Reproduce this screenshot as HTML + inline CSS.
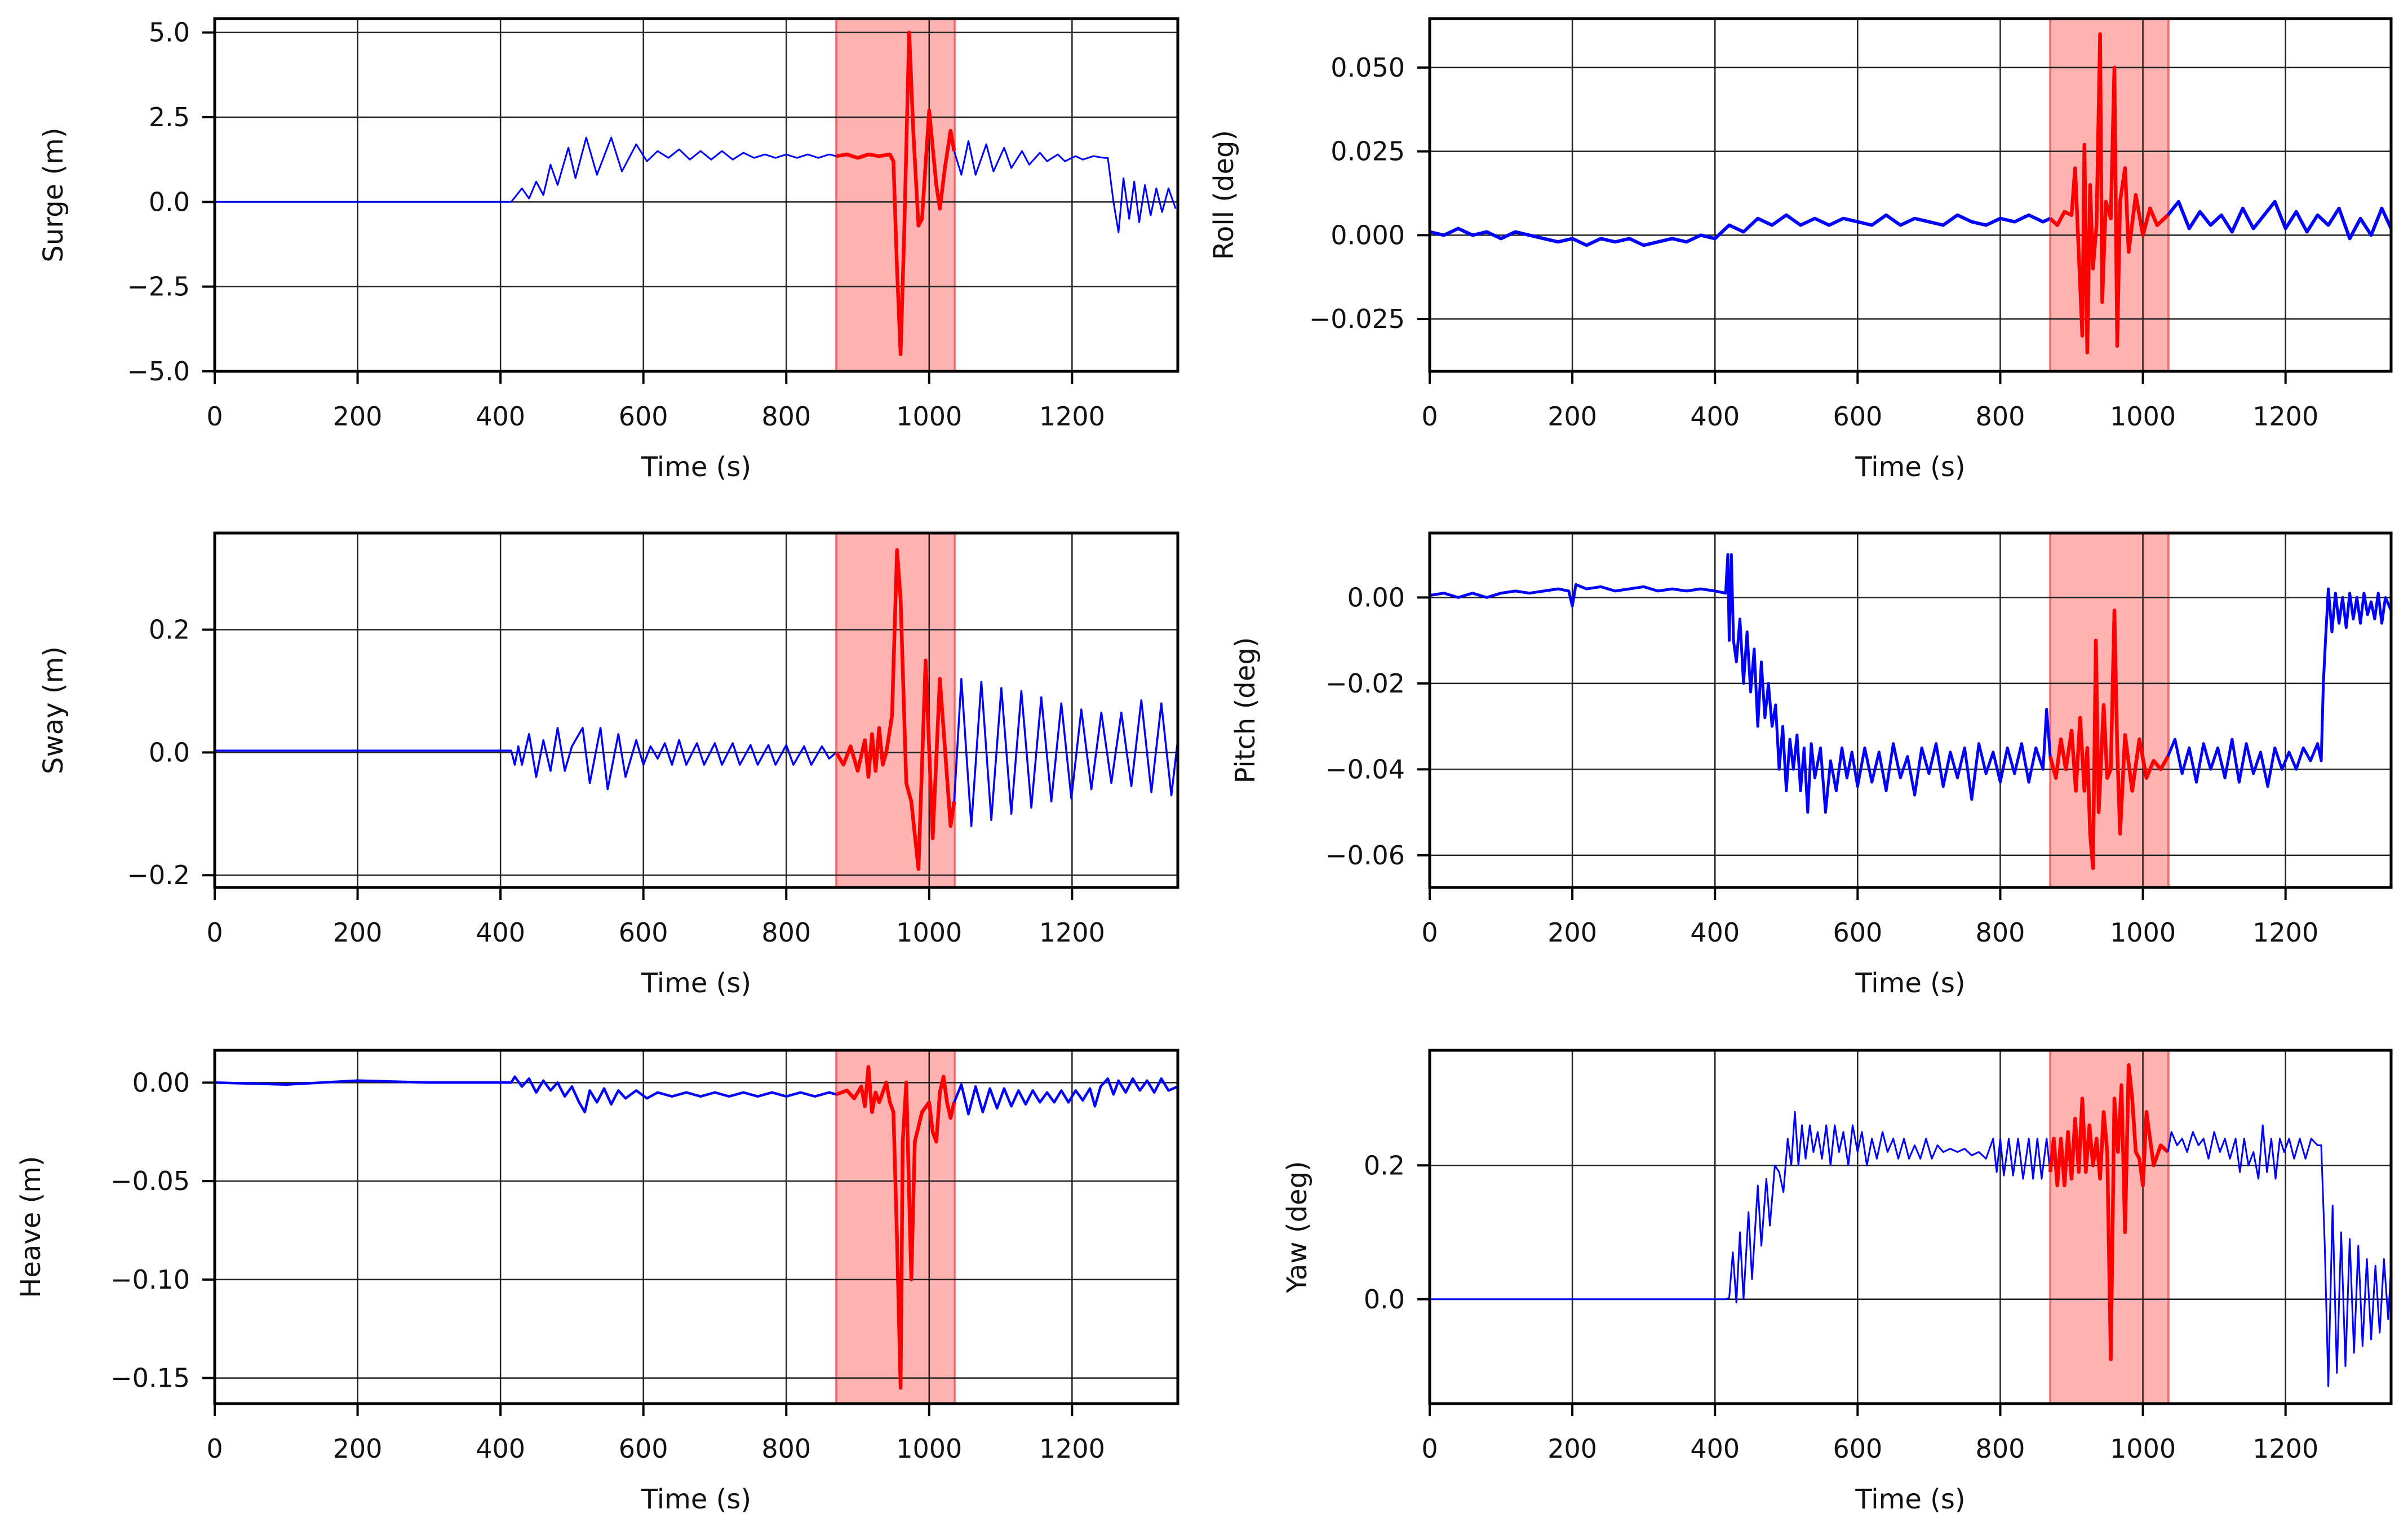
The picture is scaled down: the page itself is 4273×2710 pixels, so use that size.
<!DOCTYPE html>
<html><head><meta charset="utf-8">
<style>
html,body{margin:0;padding:0;background:#fff;}
svg{display:block;font-family:"DejaVu Sans","Liberation Sans",sans-serif;}
</style></head>
<body>
<svg id="fig" width="4273" height="2710" viewBox="0 0 4273 2710" xmlns="http://www.w3.org/2000/svg"></svg>
<script>
// ---------- data ----------
const xTicks = [0,200,400,600,800,1000,1200];
const shadeRange = [870,1036];

const surgeT1=[0,415,430,440,450,460,470,480,495,505,520,535,555,570,590,605,620,635,650,665,680,695,710,725,740,755,770,785,800,815,830,845,860,870];
const surgeV1=[0,0,0.4,0.1,0.6,0.2,1.1,0.5,1.6,0.7,1.9,0.8,1.9,0.9,1.7,1.2,1.5,1.3,1.55,1.25,1.5,1.25,1.5,1.25,1.45,1.3,1.4,1.3,1.4,1.3,1.4,1.3,1.4,1.35];
const surgeTR=[870,885,900,915,930,945,950,955,960,965,972,978,985,990,1000,1010,1015,1022,1030,1035];
const surgeVR=[1.35,1.4,1.3,1.4,1.35,1.4,1.2,-2,-4.5,-1,5.0,2,-0.7,-0.5,2.7,0.5,-0.2,1.0,2.1,1.5];
const surgeT2=[1035,1045,1055,1065,1080,1090,1105,1115,1130,1140,1155,1165,1180,1190,1205,1215,1230,1245,1250,1258,1265,1272,1280,1287,1294,1302,1310,1318,1326,1335,1345];
const surgeV2=[1.5,0.8,1.8,0.8,1.7,0.9,1.6,1.0,1.5,1.1,1.45,1.2,1.4,1.2,1.35,1.25,1.35,1.3,1.3,0,-0.9,0.7,-0.5,0.6,-0.6,0.5,-0.4,0.4,-0.3,0.4,-0.2];
const surgeTicks=[5.0,2.5,0.0,-2.5,-5.0];

const rollT1=[0,20,40,60,80,100,120,140,160,180,200,220,240,260,280,300,320,340,360,380,400,420,440,460,480,500,520,540,560,580,600,620,640,660,680,700,720,740,760,780,800,820,840,860,870];
const rollV1=[0.001,0.0,0.002,0.0,0.001,-0.001,0.001,0.0,-0.001,-0.002,-0.001,-0.003,-0.001,-0.002,-0.001,-0.003,-0.002,-0.001,-0.002,0.0,-0.001,0.003,0.001,0.005,0.003,0.006,0.003,0.005,0.003,0.005,0.004,0.003,0.006,0.003,0.005,0.004,0.003,0.006,0.004,0.003,0.005,0.004,0.006,0.004,0.005];
const rollTR=[870,880,890,900,905,910,915,918,922,926,930,935,940,943,948,955,960,964,968,975,980,990,1000,1010,1020,1035];
const rollVR=[0.005,0.003,0.007,0.006,0.02,-0.005,-0.03,0.027,-0.035,0.015,-0.01,0.003,0.06,-0.02,0.01,0.005,0.05,-0.033,0.01,0.02,-0.005,0.012,0.0,0.008,0.003,0.006];
const rollT2=[1035,1050,1065,1080,1095,1110,1125,1140,1155,1170,1185,1200,1215,1230,1245,1260,1275,1290,1305,1320,1335,1348];
const rollV2=[0.006,0.01,0.002,0.007,0.003,0.006,0.001,0.008,0.002,0.006,0.01,0.002,0.007,0.001,0.006,0.003,0.008,-0.001,0.005,0.0,0.008,0.002];
const rollTicks=[0.05,0.025,0,-0.025];

const swayT1=[0,100,200,300,415,420,425,430,440,450,460,470,480,490,500,515,525,540,550,565,575,590,600,610,620,630,640,650,660,675,685,700,710,725,735,750,760,775,785,800,810,825,835,850,860,870];
const swayV1=[0.003,0.003,0.003,0.003,0.003,-0.02,0.01,-0.02,0.03,-0.04,0.02,-0.03,0.04,-0.03,0.01,0.04,-0.05,0.04,-0.06,0.03,-0.04,0.02,-0.02,0.01,-0.01,0.015,-0.02,0.02,-0.02,0.015,-0.02,0.015,-0.02,0.015,-0.02,0.012,-0.02,0.012,-0.02,0.012,-0.02,0.01,-0.02,0.01,-0.01,0.0];
const swayTR=[870,880,890,900,910,915,920,925,930,935,940,948,955,960,968,975,985,995,1005,1015,1030,1035];
const swayVR=[0,-0.02,0.01,-0.03,0.02,-0.04,0.03,-0.03,0.04,-0.02,0.0,0.06,0.33,0.25,-0.05,-0.08,-0.19,0.15,-0.14,0.12,-0.12,-0.08];
const swayT2=[1035,1045,1059,1073,1087,1101,1115,1129,1143,1157,1171,1185,1199,1213,1227,1241,1255,1269,1283,1297,1311,1325,1339,1348];
const swayV2=[-0.08,0.12,-0.12,0.115,-0.11,0.105,-0.1,0.1,-0.09,0.09,-0.08,0.08,-0.075,0.07,-0.06,0.065,-0.05,0.065,-0.055,0.085,-0.065,0.08,-0.07,0.02];
const swayTicks=[0.2,0.0,-0.2];

const pitchT1=[0,20,40,60,80,100,120,140,160,180,195,200,205,220,240,260,280,300,320,340,360,380,400,415,418,420,423,426,430,435,440,445,450,455,460,465,470,475,480,485,490,495,500,505,510,515,520,525,530,535,540,548,555,562,570,578,585,592,600,610,620,630,640,650,660,670,680,690,700,710,720,730,740,750,760,770,780,790,800,810,820,830,840,850,860,865,870];
const pitchV1=[0.0005,0.001,0.0,0.001,0.0,0.001,0.0015,0.001,0.0015,0.002,0.0015,-0.002,0.003,0.002,0.0025,0.0015,0.002,0.0025,0.0015,0.002,0.0015,0.002,0.0015,0.001,0.01,-0.01,0.01,-0.01,-0.015,-0.005,-0.02,-0.008,-0.022,-0.012,-0.03,-0.015,-0.028,-0.02,-0.03,-0.025,-0.04,-0.03,-0.045,-0.033,-0.04,-0.032,-0.045,-0.035,-0.05,-0.034,-0.042,-0.035,-0.05,-0.038,-0.045,-0.035,-0.042,-0.036,-0.044,-0.035,-0.043,-0.036,-0.045,-0.034,-0.042,-0.037,-0.046,-0.035,-0.041,-0.034,-0.044,-0.036,-0.042,-0.035,-0.047,-0.034,-0.041,-0.036,-0.043,-0.035,-0.041,-0.034,-0.043,-0.035,-0.04,-0.026,-0.037];
const pitchTR=[870,878,885,892,900,906,912,918,922,926,930,934,938,945,950,955,960,964,968,975,985,995,1005,1015,1025,1035];
const pitchVR=[-0.037,-0.042,-0.033,-0.04,-0.031,-0.045,-0.028,-0.045,-0.035,-0.055,-0.063,-0.01,-0.05,-0.025,-0.042,-0.04,-0.003,-0.035,-0.055,-0.032,-0.045,-0.033,-0.042,-0.038,-0.04,-0.037];
const pitchT2=[1035,1045,1055,1065,1075,1085,1095,1105,1115,1125,1135,1145,1155,1165,1175,1185,1195,1205,1215,1225,1235,1245,1250,1253,1256,1260,1265,1270,1275,1280,1285,1290,1295,1300,1305,1310,1315,1320,1325,1330,1335,1340,1348];
const pitchV2=[-0.037,-0.033,-0.041,-0.035,-0.043,-0.034,-0.04,-0.035,-0.042,-0.033,-0.043,-0.034,-0.041,-0.036,-0.044,-0.035,-0.04,-0.036,-0.04,-0.035,-0.038,-0.034,-0.038,-0.02,-0.01,0.002,-0.008,0.001,-0.006,0.0,-0.007,0.001,-0.005,0.0,-0.006,0.001,-0.004,-0.001,-0.005,0.001,-0.006,0.0,-0.003];
const pitchTicks=[0.0,-0.02,-0.04,-0.06];

const heaveT1=[0,100,200,300,415,420,430,440,450,460,470,480,490,500,510,518,525,535,545,555,565,575,590,605,620,640,660,680,700,720,740,760,780,800,820,840,860,870];
const heaveV1=[0,-0.001,0.001,0,0,0.003,-0.002,0.002,-0.005,0.001,-0.004,0.0,-0.007,-0.002,-0.01,-0.015,-0.004,-0.01,-0.003,-0.011,-0.004,-0.008,-0.004,-0.008,-0.005,-0.007,-0.005,-0.007,-0.005,-0.007,-0.005,-0.007,-0.005,-0.007,-0.005,-0.007,-0.005,-0.006];
const heaveTR=[870,885,895,905,910,915,920,925,930,940,945,950,955,960,963,968,975,980,990,1000,1005,1010,1015,1020,1025,1030,1035];
const heaveVR=[-0.006,-0.004,-0.008,-0.002,-0.012,0.008,-0.015,-0.005,-0.01,0.0,-0.01,-0.015,-0.08,-0.155,-0.03,0.0,-0.1,-0.03,-0.015,-0.01,-0.025,-0.03,-0.005,0.003,-0.01,-0.018,-0.01];
const heaveT2=[1035,1045,1055,1065,1075,1085,1095,1105,1115,1125,1135,1145,1155,1165,1175,1185,1195,1205,1215,1225,1232,1240,1250,1258,1265,1275,1285,1295,1305,1315,1325,1335,1348];
const heaveV2=[-0.01,-0.001,-0.016,-0.002,-0.015,-0.003,-0.013,-0.003,-0.012,-0.004,-0.011,-0.004,-0.01,-0.005,-0.01,-0.004,-0.01,-0.004,-0.009,-0.003,-0.012,-0.002,0.002,-0.006,0.001,-0.005,0.002,-0.004,0.001,-0.005,0.002,-0.004,-0.002];
const heaveTicks=[0.0,-0.05,-0.1,-0.15];

const yawT1=[0,415,420,425,430,435,440,447,452,460,465,472,477,484,490,496,502,507,512,517,522,527,533,538,544,550,556,562,568,574,580,587,593,600,606,613,620,627,635,642,650,657,665,672,680,688,696,704,712,720,730,740,750,760,770,780,790,795,800,805,812,818,825,832,840,846,852,858,865,870];
const yawV1=[0,0,0.002,0.07,-0.005,0.1,0.0,0.13,0.03,0.17,0.08,0.18,0.11,0.2,0.19,0.16,0.24,0.2,0.28,0.2,0.26,0.21,0.26,0.22,0.25,0.21,0.26,0.2,0.26,0.22,0.25,0.2,0.26,0.22,0.25,0.2,0.24,0.21,0.25,0.22,0.24,0.21,0.24,0.21,0.23,0.21,0.24,0.21,0.23,0.22,0.225,0.22,0.225,0.215,0.22,0.21,0.24,0.19,0.24,0.185,0.24,0.185,0.24,0.18,0.24,0.18,0.24,0.18,0.24,0.19];
const yawTR=[870,875,880,885,890,895,900,905,910,915,920,925,930,935,940,945,950,955,960,965,970,975,980,985,990,995,1000,1005,1010,1015,1025,1035];
const yawVR=[0.19,0.24,0.17,0.24,0.17,0.25,0.18,0.27,0.19,0.3,0.19,0.26,0.2,0.24,0.18,0.28,0.22,-0.09,0.3,0.22,0.32,0.1,0.35,0.3,0.22,0.21,0.17,0.28,0.24,0.2,0.23,0.22];
const yawT2=[1035,1040,1048,1055,1062,1070,1078,1085,1092,1100,1108,1115,1122,1130,1136,1142,1148,1155,1162,1168,1174,1180,1186,1192,1198,1205,1212,1220,1228,1236,1245,1250,1255,1260,1266,1272,1278,1284,1290,1296,1302,1308,1314,1320,1326,1332,1338,1344,1348];
const yawV2=[0.22,0.25,0.23,0.24,0.22,0.25,0.23,0.24,0.21,0.25,0.22,0.24,0.21,0.24,0.19,0.24,0.2,0.22,0.18,0.26,0.19,0.24,0.18,0.24,0.22,0.24,0.21,0.24,0.21,0.24,0.23,0.23,0.08,-0.13,0.14,-0.11,0.1,-0.1,0.09,-0.08,0.08,-0.07,0.06,-0.06,0.05,-0.05,0.06,-0.03,0.05];
const yawTicks=[0.2,0.0];

// ---------- layout ----------
const NS="http://www.w3.org/2000/svg";
const svg=document.getElementById('fig');
function mk(tag,attrs,parent){const e=document.createElementNS(NS,tag);for(const k in attrs)e.setAttribute(k,attrs[k]);(parent||svg).appendChild(e);return e;}

const panels=[
 {key:'surge',label:'Surge (m)',x0:381,x1:2090,y0:33,y1:659,ymin:-5.0,ymax:5.41,ticks:surgeTicks,dec:1,lx:95,lw:[3,6.5],
  series:[[surgeT1,surgeV1],[surgeTR,surgeVR],[surgeT2,surgeV2]]},
 {key:'roll',label:'Roll (deg)',x0:2537,x1:4243,y0:33,y1:659,ymin:-0.0406,ymax:0.0646,ticks:rollTicks,dec:3,lx:2172,lw:[6,6.5],
  series:[[rollT1,rollV1],[rollTR,rollVR],[rollT2,rollV2]]},
 {key:'sway',label:'Sway (m)',x0:381,x1:2090,y0:946,y1:1575,ymin:-0.22,ymax:0.3575,ticks:swayTicks,dec:1,lx:95,lw:[3.5,6.5],
  series:[[swayT1,swayV1],[swayTR,swayVR],[swayT2,swayV2]]},
 {key:'pitch',label:'Pitch (deg)',x0:2537,x1:4243,y0:946,y1:1575,ymin:-0.0675,ymax:0.015,ticks:pitchTicks,dec:2,lx:2210,lw:[5,6.5],
  series:[[pitchT1,pitchV1],[pitchTR,pitchVR],[pitchT2,pitchV2]]},
 {key:'heave',label:'Heave (m)',x0:381,x1:2090,y0:1864,y1:2491,ymin:-0.163,ymax:0.0164,ticks:heaveTicks,dec:2,lx:55,lw:[4.5,6.5],
  series:[[heaveT1,heaveV1],[heaveTR,heaveVR],[heaveT2,heaveV2]]},
 {key:'yaw',label:'Yaw (deg)',x0:2537,x1:4243,y0:1864,y1:2491,ymin:-0.156,ymax:0.372,ticks:yawTicks,dec:1,lx:2302,lw:[3,6.5],
  series:[[yawT1,yawV1],[yawTR,yawVR],[yawT2,yawV2]]}
];
const XMAX=1348;
function fmt(v,d){const s=Math.abs(v).toFixed(d);return (v<0?'\u2212':'')+s;}

panels.forEach(p=>{
  const g=mk('g',{});
  
  
  const X=t=>p.x0+(t/XMAX)*(p.x1-p.x0);
  const Y=v=>p.y1-(v-p.ymin)/(p.ymax-p.ymin)*(p.y1-p.y0);
  const sh=mk('rect',{x:X(shadeRange[0]),y:p.y0,width:X(shadeRange[1])-X(shadeRange[0]),height:p.y1-p.y0,fill:'rgba(255,0,0,0.3)',stroke:'rgba(220,0,0,0.45)','stroke-width':4},g);
  
  
  xTicks.forEach(t=>{
    const l=mk('line',{x1:X(t),x2:X(t),y1:p.y0,y2:p.y1,stroke:'#222','stroke-width':2.5},g);
    
    
    const tk=mk('line',{x1:X(t),x2:X(t),y1:p.y1,y2:p.y1+22,stroke:'#000','stroke-width':4},g);
    
    
    const tx=mk('text',{x:X(t),y:p.y1+96,'font-size':46,'text-anchor':'middle',fill:'#111'},g);
    tx.textContent=String(t);
    
    
  });
  p.ticks.forEach(v=>{
    const l=mk('line',{x1:p.x0,x2:p.x1,y1:Y(v),y2:Y(v),stroke:'#222','stroke-width':2.5},g);
    
    
    const tk=mk('line',{x1:p.x0-22,x2:p.x0,y1:Y(v),y2:Y(v),stroke:'#000','stroke-width':4},g);
    
    
    const tx=mk('text',{x:p.x0-44,y:Y(v)+16,'font-size':46,'text-anchor':'end',fill:'#111'},g);
    tx.textContent=fmt(v,p.dec);
    
    
  });
  const colors=['#0000ff','#ff0000','#0000ff'];
  p.series.forEach((s,i)=>{
    const [T,V]=s;
    let d='';
    for(let k=0;k<T.length;k++){d+=(k?'L':'M')+X(T[k]).toFixed(1)+' '+Y(V[k]).toFixed(1);}
    const path=mk('path',{d:d,fill:'none',stroke:colors[i],'stroke-width':i===1?p.lw[1]:p.lw[0],'stroke-linejoin':'round'},g);
    
    
  });
  const fr=mk('rect',{x:p.x0,y:p.y0,width:p.x1-p.x0,height:p.y1-p.y0,fill:'none',stroke:'#000','stroke-width':5},g);
  
  
  const xl=mk('text',{x:(p.x0+p.x1)/2,y:p.y1+186,'font-size':48,'text-anchor':'middle',fill:'#111'},g);
  xl.textContent='Time (s)';
  
  
  const cy=(p.y0+p.y1)/2;
  const yl=mk('text',{x:p.lx+16,y:cy,'font-size':48,'text-anchor':'middle',fill:'#111',transform:'rotate(-90 '+(p.lx+16)+' '+cy+')'},g);
  yl.textContent=p.label;
  
  
});
</script>
</body></html>
